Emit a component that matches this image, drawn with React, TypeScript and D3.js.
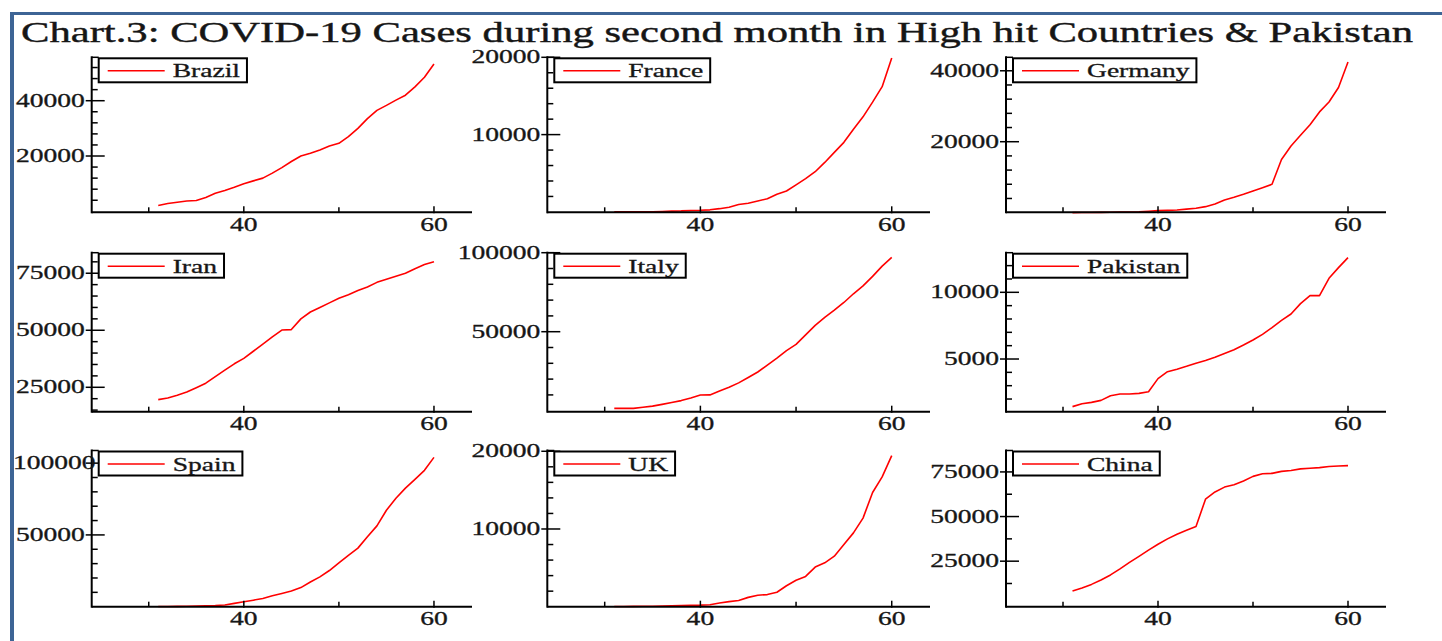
import React, { useEffect, useRef } from "react";
import * as d3 from "d3";

const WIDTH = 1442;
const HEIGHT = 641;
const FONT = "'Liberation Serif', 'Times New Roman', serif";
const INK = "#161616";
const SX = 1.53; // the source picture is stretched horizontally

const title =
  "Chart.3: COVID-19 Cases during second month in High hit Countries & Pakistan";

const days = [
  31, 32, 33, 34, 35, 36, 37, 38, 39, 40, 41, 42, 43, 44, 45, 46, 47, 48, 49, 50,
  51, 52, 53, 54, 55, 56, 57, 58, 59, 60,
];

const brazil = [
  2100, 2800, 3300, 3700, 3900, 5000, 6500, 7500, 8700, 10000, 11000, 12000,
  13800, 15800, 18000, 20000, 21000, 22200, 23600, 24600, 27000, 30000, 33500,
  36500, 38300, 40200, 42000, 45000, 48500, 53300,
];
const france = [
  12, 12, 12, 14, 18, 57, 100, 130, 190, 212, 270, 420, 613, 949, 1126, 1412,
  1700, 2281, 2700, 3500, 4300, 5200, 6400, 7700, 9000, 10700, 12300, 14200,
  16200, 19900,
];
const germany = [
  20, 26, 48, 79, 130, 159, 196, 262, 400, 560, 650, 750, 1000, 1220, 1690,
  2440, 3570, 4320, 5170, 6100, 7040, 8000, 15000, 18800, 21800, 24800, 28400,
  31200, 35300, 42500,
];
const iran = [
  19600, 20300, 21500, 22900, 24800, 26800, 29700, 32500, 35300, 37700, 40800,
  43900, 47100, 50100, 50300, 55000, 58000, 60000, 62000, 64000, 65600, 67400,
  69000, 71000, 72400, 73700, 75000, 77000, 78800, 80000,
];
const italy = [
  1470, 1470, 1500, 2200, 2900, 4000, 5200, 6400, 8000, 9900, 10000, 12400,
  14800, 17600, 21000, 24500, 28900, 33300, 38000, 42000, 48000, 54000, 59000,
  63600, 68500, 74000, 79000, 85000, 91500, 97000,
];
const pakistan = [
  1430, 1650, 1750, 1900, 2250, 2375, 2375, 2425, 2550, 3530, 4050, 4240, 4450,
  4690, 4890, 5130, 5420, 5700, 6050, 6425, 6850, 7360, 7900, 8375, 9150, 9750,
  9750, 11050, 11850, 12600,
];
const spain = [
  100, 150, 200, 300, 400, 600, 800, 1200, 2300, 3400, 4550, 5750, 7600, 9200,
  10900, 13300, 17200, 20800, 25200, 30500, 35800, 40800, 48700, 56300, 67200,
  75500, 82600, 88700, 95000, 104000,
];
const uk = [
  20, 30, 40, 50, 60, 90, 120, 160, 190, 200, 260, 470, 650, 800, 1200, 1480,
  1560, 1860, 2700, 3400, 3900, 5100, 5650, 6500, 8000, 9500, 11400, 14700,
  16700, 19450,
];
const china = [
  8300, 10000, 12000, 14500, 17300, 20700, 24300, 27700, 31200, 34500, 37500,
  40100, 42300, 44400, 59700, 63800, 66500, 67800, 69900, 72500, 74000, 74200,
  75300, 75800, 76700, 77100, 77400, 78000, 78300, 78500,
];

const countries = [
  "Brazil", "France", "Germany",
  "Iran", "Italy", "Pakistan",
  "Spain", "UK", "China",
];
const series = [brazil, france, germany, iran, italy, pakistan, spain, uk, china];

// axis settings per panel
const yDomains = [
  [-360, 55700], [-50, 20000], [100, 43800],
  [14300, 84000], [-630, 100000], [1050, 12970],
  [0, 108800], [0, 20100], [-500, 87000],
];
const yMajorStep = [20000, 10000, 20000, 25000, 50000, 5000, 50000, 10000, 25000];
const yMinorStep = [4000, 2000, 4000, 5000, 10000, 1000, 10000, 2000, 12500];
const xDomain = [24, 64];
const xMajor = [40, 60];
const xMinor = [30, 50];

// panel frame positions
const colAxisX = [91.7, 547.3, 1006];
const colRight = [472, 930, 1386];
const rowTop = [57.3, 252.7, 450.5];
const rowBottom = [212.3, 411.7, 606.7];

const App = () => {
  const svgRef = useRef(null);

  useEffect(() => {
    document.body.style.margin = "0";
    document.body.style.overflow = "hidden";

    const svg = d3.select(svgRef.current);
    svg.selectAll("*").remove();

    svg.append("rect").attr("width", WIDTH).attr("height", HEIGHT).attr("fill", "#fff");

    // blue frame
    svg.append("rect").attr("x", 10).attr("y", 12).attr("width", WIDTH - 10).attr("height", 3).attr("fill", "#3d6495");
    svg.append("rect").attr("x", 10).attr("y", 12).attr("width", 4).attr("height", HEIGHT - 12).attr("fill", "#3d6495");

    svg
      .append("text")
      .attr("x", 21)
      .attr("y", 41.5)
      .attr("font-family", FONT)
      .attr("font-size", 29)
      .attr("fill", INK)
      .attr("stroke", INK)
      .attr("stroke-width", 0.4)
      .attr("textLength", 1392)
      .attr("lengthAdjust", "spacingAndGlyphs")
      .text(title);

    const stext = (g, x, y, str, anchor, size) =>
      g
        .append("text")
        .attr("transform", `translate(${x},${y}) scale(${SX},1)`)
        .attr("text-anchor", anchor)
        .attr("font-family", FONT)
        .attr("font-size", size)
        .attr("fill", INK)
        .attr("stroke", INK)
        .attr("stroke-width", 0.3)
        .text(str);

    countries.forEach((name, i) => {
      const col = i % 3;
      const row = Math.floor(i / 3);
      const ax = colAxisX[col];
      const top = rowTop[row];
      const bottom = rowBottom[row];
      const g = svg.append("g");

      const x = d3.scaleLinear().domain(xDomain).range([ax, colRight[col]]);
      const y = d3.scaleLinear().domain(yDomains[i]).range([bottom, top]);
      const [lo, hi] = yDomains[i];

      // data line
      const line = d3
        .line()
        .x((d, k) => x(days[k]))
        .y((d) => y(d));
      g.append("path")
        .datum(series[i])
        .attr("fill", "none")
        .attr("stroke", "#ff0000")
        .attr("stroke-width", 1.6)
        .attr("stroke-linejoin", "round")
        .attr("d", line);

      // axes
      g.append("line").attr("x1", ax).attr("x2", ax).attr("y1", top - 1).attr("y2", bottom + 1)
        .attr("stroke", "#000").attr("stroke-width", 2);
      g.append("line").attr("x1", ax).attr("x2", colRight[col]).attr("y1", bottom).attr("y2", bottom)
        .attr("stroke", "#000").attr("stroke-width", 2);
      g.append("line").attr("x1", ax).attr("x2", ax + 7).attr("y1", top).attr("y2", top)
        .attr("stroke", "#000").attr("stroke-width", 1.5);

      const minorStep = yMinorStep[i];
      const majorStep = yMajorStep[i];
      for (let v = Math.ceil(lo / minorStep) * minorStep; v <= hi; v += minorStep) {
        if (v === 0 || v % majorStep === 0) continue;
        g.append("line").attr("x1", ax).attr("x2", ax + 6).attr("y1", y(v)).attr("y2", y(v))
          .attr("stroke", "#000").attr("stroke-width", 1.5);
      }
      for (let v = Math.ceil(lo / majorStep) * majorStep; v <= hi + 1; v += majorStep) {
        if (v <= 0) continue;
        g.append("line").attr("x1", ax - 6).attr("x2", ax + 13).attr("y1", y(v)).attr("y2", y(v))
          .attr("stroke", "#000").attr("stroke-width", 1.5);
        const t = stext(g, ax - 7, y(v) + 6, String(v), "end", 18);
        const w = t.node().getComputedTextLength() * SX;
        if (ax - 7 - w < 13) {
          t.attr("transform", `translate(13,${y(v) + 6}) scale(${SX},1)`).attr("text-anchor", "start");
        }
      }

      xMinor.forEach((d) => {
        g.append("line").attr("x1", x(d)).attr("x2", x(d)).attr("y1", bottom).attr("y2", bottom - 5)
          .attr("stroke", "#000").attr("stroke-width", 1.5);
      });
      xMajor.forEach((d) => {
        g.append("line").attr("x1", x(d)).attr("x2", x(d)).attr("y1", bottom + 1).attr("y2", bottom - 6)
          .attr("stroke", "#000").attr("stroke-width", 1.5);
        stext(g, x(d), bottom + 18.5, String(d), "middle", 18);
      });

      // legend
      const bx = ax + 7;
      const by = top + 1;
      const box = g.append("rect").attr("x", bx).attr("y", by).attr("height", 24)
        .attr("fill", "#fff").attr("stroke", "#000").attr("stroke-width", 2);
      g.append("line").attr("x1", bx + 9).attr("x2", bx + 66).attr("y1", by + 12.5).attr("y2", by + 12.5)
        .attr("stroke", "#ff0000").attr("stroke-width", 1.4);
      const lt = stext(g, bx + 74, by + 19, name, "start", 18);
      const lw = lt.node().getComputedTextLength() * SX;
      box.attr("width", 74 + lw + 7);
    });
  }, []);

  return <svg width={WIDTH} height={HEIGHT} ref={svgRef} style={{ display: "block" }}></svg>;
};

export default App;
